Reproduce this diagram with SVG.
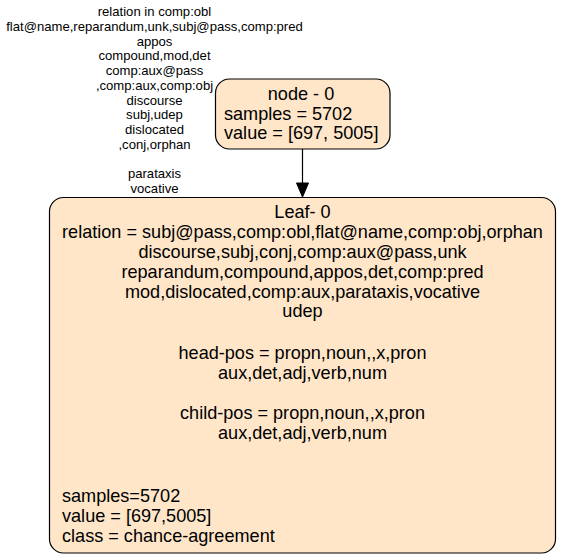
<svg xmlns="http://www.w3.org/2000/svg" width="561" height="559" viewBox="0 0 561 559">
<style>
.box{fill:#ffe6c9;stroke:#000;stroke-width:1.2}
.t{font-family:"Liberation Sans",Arial,sans-serif;font-size:18.1px;fill:#000}
.c{text-anchor:middle}
.e{font-family:"Liberation Sans",Arial,sans-serif;font-size:13.1px;fill:#000;text-anchor:middle}
</style>
<rect width="561" height="559" fill="#fff"/>
<g id="connectors">
<line x1="302.5" y1="149" x2="302.5" y2="184" stroke="#000" stroke-width="1.2"/>
<polygon points="296.5,183 308.5,183 302.5,197" fill="#000" stroke="#000"/>
<g id="edge-label">
<text class="e" x="154.5" y="16">relation in comp:obl</text>
<text class="e" x="154.5" y="30.75">flat@name,reparandum,unk,subj@pass,comp:pred</text>
<text class="e" x="154.5" y="45.5">appos</text>
<text class="e" x="154.5" y="60.25">compound,mod,det</text>
<text class="e" x="154.5" y="75">comp:aux@pass</text>
<text class="e" x="154.5" y="89.75">,comp:aux,comp:obj</text>
<text class="e" x="154.5" y="104.5">discourse</text>
<text class="e" x="154.5" y="119.25">subj,udep</text>
<text class="e" x="154.5" y="134">dislocated</text>
<text class="e" x="154.5" y="148.75">,conj,orphan</text>
<text class="e" x="154.5" y="178.25">parataxis</text>
<text class="e" x="154.5" y="193">vocative</text>
</g>
</g>
<g id="node0">
<rect class="box" x="215.5" y="79" width="174.5" height="70" rx="14" ry="14"/>
<text class="t c" x="301" y="100">node - 0</text>
<text class="t" x="224" y="119.7">samples = 5702</text>
<text class="t" x="224" y="139.4">value = [697, 5005]</text>
</g>
<g id="leaf0">
<rect class="box" x="49.5" y="197.5" width="506" height="355.5" rx="14" ry="14"/>
<text class="t c" x="302.5" y="218">Leaf- 0</text>
<text class="t c" x="302.5" y="238">relation = subj@pass,comp:obl,flat@name,comp:obj,orphan</text>
<text class="t c" x="302.5" y="258">discourse,subj,conj,comp:aux@pass,unk</text>
<text class="t c" x="302.5" y="278">reparandum,compound,appos,det,comp:pred</text>
<text class="t c" x="302.5" y="298">mod,dislocated,comp:aux,parataxis,vocative</text>
<text class="t c" x="302.5" y="317">udep</text>
<text class="t c" x="302.5" y="359">head-pos = propn,noun,,x,pron</text>
<text class="t c" x="302.5" y="379">aux,det,adj,verb,num</text>
<text class="t c" x="302.5" y="419">child-pos = propn,noun,,x,pron</text>
<text class="t c" x="302.5" y="439">aux,det,adj,verb,num</text>
<text class="t" x="62" y="502">samples=5702</text>
<text class="t" x="62" y="522">value = [697,5005]</text>
<text class="t" x="62" y="542">class = chance-agreement</text>
</g>
</svg>
